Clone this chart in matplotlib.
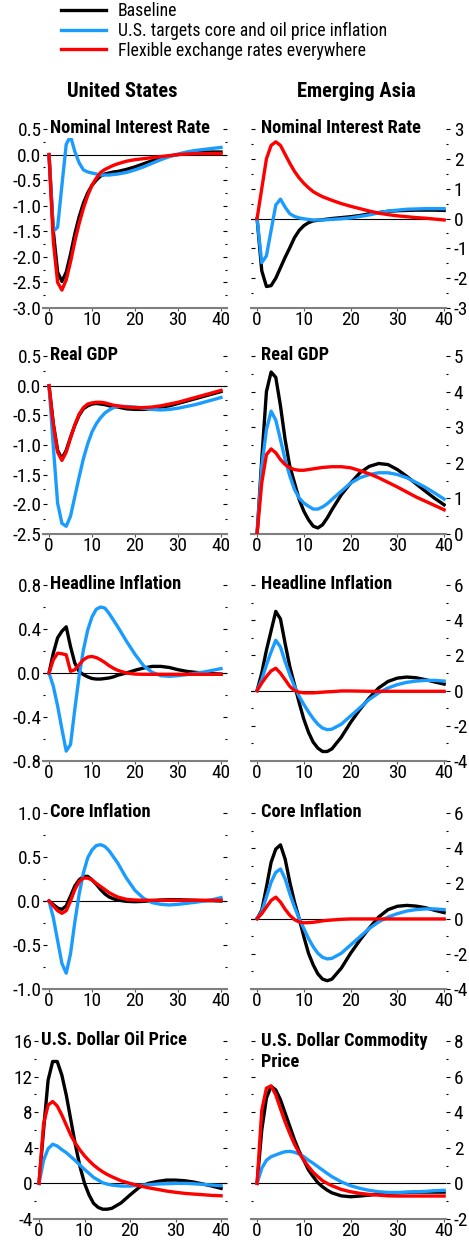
import numpy as np
import matplotlib
matplotlib.use("Agg")
import matplotlib.pyplot as plt
from matplotlib import font_manager as fm
from matplotlib.font_manager import FontProperties
from matplotlib.textpath import TextPath
from matplotlib.ticker import MultipleLocator, FormatStrFormatter

# pick a narrow sans family that has regular + bold
weights = {}
for f in fm.fontManager.ttflist:
    w = f.weight if isinstance(f.weight, int) else fm.weight_dict.get(f.weight, 400)
    weights.setdefault(f.name, set()).add(w)
narrow = 'DejaVu Sans'
for cand in ['Liberation Sans Narrow', 'Arial Narrow', 'Roboto Condensed', 'Archivo Narrow',
             'PT Sans Narrow', 'IBM Plex Sans Condensed', 'Fira Sans Condensed',
             'Encode Sans Condensed', 'Open Sans Condensed']:
    ws = weights.get(cand, set())
    if 400 in ws and any(w >= 700 for w in ws):
        narrow = cand
        break
plt.rcParams['font.family'] = [narrow, 'DejaVu Sans']
plt.rcParams['axes.unicode_minus'] = False


def fit_size(s, target_w, target_h, weight='normal'):
    # font size (pt) that best matches a width and cap height given in pixels
    prop = FontProperties(family=narrow, weight=weight)
    wid = TextPath((0, 0), s, size=10, prop=prop).get_extents().width * 100 / 72
    cap = TextPath((0, 0), 'H', size=10, prop=prop).get_extents().height * 100 / 72
    return ((10 * target_w / wid) * (10 * target_h / cap)) ** 0.5


# quarters
quarters = [0, 1, 2, 3, 4, 5, 6, 7, 8, 9, 10, 11, 12, 13, 14, 15, 16,
            18, 20, 22, 24, 26, 28, 30, 32, 34, 36, 38, 40]

series_labels = ["Baseline",
                 "U.S. targets core and oil price inflation",
                 "Flexible exchange rates everywhere"]
column_titles = ["United States", "Emerging Asia"]

# United States - Nominal Interest Rate
us_rate_base = [0, -1.5, -2.3, -2.48, -2.3, -1.95, -1.55, -1.22, -0.95, -0.75, -0.6, -0.5, -0.42, -0.38, -0.36, -0.34, -0.33,
                -0.29, -0.24, -0.18, -0.12, -0.07, -0.03, 0.0, 0.02, 0.04, 0.05, 0.05, 0.05]
us_rate_target = [0, -1.5, -1.42, -0.6, 0.2, 0.36, 0.06, -0.16, -0.3, -0.34, -0.36, -0.38, -0.4, -0.4, -0.4, -0.39, -0.38,
                  -0.35, -0.3, -0.24, -0.17, -0.1, -0.04, 0.01, 0.05, 0.08, 0.1, 0.12, 0.14]
us_rate_flex = [0, -1.7, -2.5, -2.65, -2.45, -2.1, -1.7, -1.35, -1.05, -0.8, -0.6, -0.46, -0.35, -0.29, -0.25, -0.21, -0.18,
                -0.13, -0.1, -0.08, -0.06, -0.04, -0.02, 0.0, 0.01, 0.02, 0.02, 0.02, 0.02]

# Emerging Asia - Nominal Interest Rate
ea_rate_base = [0, -1.75, -2.28, -2.25, -2.0, -1.65, -1.3, -0.98, -0.64, -0.4, -0.24, -0.14, -0.08, -0.06, -0.04, -0.02, 0.0,
                0.03, 0.06, 0.1, 0.16, 0.2, 0.24, 0.26, 0.27, 0.28, 0.28, 0.28, 0.27]
ea_rate_target = [0, -1.48, -1.25, -0.4, 0.45, 0.65, 0.38, 0.16, 0.07, 0.02, -0.01, -0.03, -0.05, -0.05, -0.05, -0.04, -0.03,
                  -0.01, 0.02, 0.07, 0.12, 0.19, 0.25, 0.28, 0.31, 0.32, 0.33, 0.33, 0.33]
ea_rate_flex = [0, 1.0, 2.0, 2.45, 2.57, 2.45, 2.15, 1.85, 1.58, 1.36, 1.18, 1.03, 0.9, 0.81, 0.73, 0.67, 0.61,
                0.5, 0.41, 0.33, 0.25, 0.18, 0.13, 0.09, 0.06, 0.03, 0.01, -0.02, -0.05]

# United States - Real GDP
us_gdp_base = [0, -0.64, -1.09, -1.23, -1.09, -0.87, -0.67, -0.5, -0.39, -0.34, -0.31, -0.3, -0.31, -0.32, -0.34, -0.35, -0.36,
               -0.39, -0.4, -0.4, -0.39, -0.36, -0.34, -0.3, -0.26, -0.22, -0.18, -0.14, -0.1]
us_gdp_target = [0, -1.03, -1.98, -2.32, -2.37, -2.2, -1.87, -1.54, -1.23, -0.98, -0.78, -0.64, -0.54, -0.46, -0.41, -0.37, -0.35,
                 -0.35, -0.36, -0.38, -0.4, -0.41, -0.4, -0.38, -0.35, -0.32, -0.28, -0.24, -0.2]
us_gdp_flex = [0, -0.66, -1.12, -1.26, -1.12, -0.88, -0.66, -0.48, -0.37, -0.31, -0.29, -0.28, -0.28, -0.29, -0.31, -0.33, -0.34,
               -0.36, -0.37, -0.37, -0.36, -0.34, -0.31, -0.28, -0.24, -0.2, -0.16, -0.12, -0.08]

# Emerging Asia - Real GDP
ea_gdp_base = [0, 2.1, 4.0, 4.55, 4.4, 3.6, 2.65, 1.9, 1.44, 0.97, 0.64, 0.4, 0.22, 0.17, 0.26, 0.45, 0.68,
               1.1, 1.43, 1.72, 1.9, 1.98, 1.95, 1.81, 1.62, 1.41, 1.2, 1.0, 0.82]
ea_gdp_target = [0, 1.9, 2.93, 3.45, 3.2, 2.65, 2.09, 1.63, 1.25, 1.01, 0.87, 0.78, 0.7, 0.7, 0.76, 0.85, 0.97,
                 1.2, 1.43, 1.58, 1.67, 1.72, 1.72, 1.67, 1.58, 1.45, 1.31, 1.15, 0.98]
ea_gdp_flex = [0, 1.44, 2.23, 2.39, 2.28, 2.09, 1.95, 1.86, 1.81, 1.79, 1.79, 1.81, 1.83, 1.85, 1.87, 1.88, 1.89,
               1.89, 1.86, 1.78, 1.69, 1.58, 1.45, 1.32, 1.18, 1.04, 0.92, 0.8, 0.68]

# United States - Headline Inflation
us_head_base = [0, 0.18, 0.32, 0.38, 0.42, 0.24, 0.09, 0.015, -0.015, -0.035, -0.05, -0.055, -0.055, -0.05, -0.045, -0.035, -0.02,
                0.0, 0.025, 0.045, 0.06, 0.06, 0.05, 0.03, 0.015, 0.006, 0.0, -0.006, -0.01]
us_head_target = [0, -0.12, -0.3, -0.51, -0.71, -0.65, -0.33, -0.03, 0.21, 0.39, 0.51, 0.58, 0.6, 0.59, 0.54, 0.48, 0.42,
                  0.29, 0.17, 0.066, 0.006, -0.024, -0.03, -0.024, -0.015, -0.003, 0.009, 0.024, 0.04]
us_head_flex = [0, 0.12, 0.18, 0.175, 0.165, 0.015, 0.03, 0.075, 0.12, 0.145, 0.15, 0.14, 0.12, 0.095, 0.066, 0.043, 0.024,
                0.0, -0.01, -0.012, -0.012, -0.012, -0.012, -0.012, -0.012, -0.012, -0.012, -0.012, -0.012]

# Emerging Asia - Headline Inflation
ea_head_base = [0, 1.0, 2.3, 3.4, 4.5, 4.07, 2.67, 1.36, 0.34, -0.69, -1.63, -2.37, -2.93, -3.27, -3.46, -3.46, -3.31,
                -2.65, -1.81, -1.07, -0.41, 0.15, 0.52, 0.71, 0.77, 0.73, 0.62, 0.49, 0.37]
ea_head_target = [0, 0.62, 1.46, 2.2, 2.86, 2.48, 1.64, 0.9, 0.24, -0.32, -0.79, -1.21, -1.59, -1.91, -2.13, -2.22, -2.19,
                  -1.91, -1.44, -0.97, -0.5, -0.13, 0.15, 0.34, 0.47, 0.54, 0.58, 0.58, 0.54]
ea_head_flex = [0, 0.43, 0.8, 1.12, 1.27, 0.99, 0.62, 0.24, 0.0, -0.09, -0.13, -0.13, -0.13, -0.11, -0.09, -0.07, -0.06,
                -0.02, -0.02, -0.03, -0.04, -0.04, -0.04, -0.04, -0.04, -0.04, -0.04, -0.04, -0.04]

# United States - Core Inflation
us_core_base = [0, -0.04, -0.08, -0.095, -0.056, 0.056, 0.17, 0.24, 0.28, 0.28, 0.24, 0.19, 0.13, 0.08, 0.045, 0.025, 0.011,
                -0.004, -0.008, -0.004, 0.004, 0.011, 0.015, 0.015, 0.011, 0.008, 0.004, 0.004, 0.0]
us_core_target = [0, -0.19, -0.45, -0.71, -0.82, -0.6, -0.24, 0.075, 0.32, 0.49, 0.58, 0.63, 0.64, 0.62, 0.57, 0.5, 0.43,
                  0.26, 0.12, 0.03, -0.019, -0.038, -0.045, -0.038, -0.026, -0.015, 0.0, 0.015, 0.038]
us_core_flex = [0, -0.056, -0.11, -0.14, -0.11, 0.0, 0.13, 0.22, 0.26, 0.26, 0.24, 0.2, 0.165, 0.13, 0.094, 0.068, 0.045,
                0.019, 0.011, 0.008, 0.008, 0.008, 0.008, 0.008, 0.008, 0.008, 0.008, 0.008, 0.008]

# Emerging Asia - Core Inflation
ea_core_base = [0, 0.47, 1.79, 3.2, 3.95, 4.19, 3.38, 2.07, 0.94, 0.0, -1.03, -1.97, -2.63, -3.14, -3.44, -3.53, -3.44,
                -2.82, -1.97, -1.22, -0.53, 0.09, 0.51, 0.7, 0.75, 0.71, 0.62, 0.47, 0.34]
ea_core_target = [0, 0.38, 1.22, 2.07, 2.63, 2.82, 2.26, 1.41, 0.66, 0.0, -0.56, -1.13, -1.6, -1.97, -2.2, -2.29, -2.26,
                  -1.97, -1.5, -1.03, -0.56, -0.19, 0.09, 0.28, 0.43, 0.51, 0.55, 0.55, 0.51]
ea_core_flex = [0, 0.28, 0.66, 1.03, 1.22, 0.94, 0.53, 0.19, -0.06, -0.19, -0.24, -0.23, -0.21, -0.17, -0.13, -0.1, -0.08,
                -0.04, -0.02, -0.02, -0.02, -0.02, -0.02, -0.02, -0.02, -0.02, -0.02, -0.02, -0.02]

# United States - U.S. Dollar Oil Price
us_oil_base = [0, 6.0, 11.6, 13.7, 13.7, 12.2, 9.9, 7.1, 4.3, 1.9, 0.0, -1.3, -2.25, -2.7, -2.9, -2.9, -2.8,
               -2.2, -1.3, -0.45, 0.0, 0.22, 0.37, 0.37, 0.3, 0.15, -0.07, -0.3, -0.56]
us_oil_target = [0, 2.6, 3.9, 4.4, 4.2, 3.8, 3.45, 3.0, 2.55, 2.06, 1.57, 1.12, 0.67, 0.37, 0.07, -0.08, -0.19,
                 -0.3, -0.3, -0.22, -0.15, -0.07, -0.04, 0.0, 0.0, -0.04, -0.11, -0.19, -0.26]
us_oil_flex = [0, 6.7, 8.8, 9.2, 8.7, 7.7, 6.55, 5.4, 4.5, 3.75, 3.1, 2.55, 2.06, 1.65, 1.3, 1.0, 0.75,
               0.3, 0.0, -0.26, -0.49, -0.67, -0.86, -1.0, -1.12, -1.2, -1.27, -1.35, -1.39]

# Emerging Asia - U.S. Dollar Commodity Price
ea_comm_base = [0, 3.0, 4.8, 5.45, 5.25, 4.7, 3.95, 3.2, 2.45, 1.8, 1.3, 0.75, 0.38, 0.04, -0.19, -0.38, -0.53,
                -0.7, -0.75, -0.71, -0.66, -0.6, -0.56, -0.53, -0.51, -0.49, -0.49, -0.49, -0.49]
ea_comm_target = [0, 0.85, 1.3, 1.5, 1.6, 1.7, 1.78, 1.8, 1.75, 1.65, 1.5, 1.3, 1.13, 0.94, 0.75, 0.56, 0.38,
                  0.09, -0.13, -0.28, -0.39, -0.47, -0.51, -0.51, -0.49, -0.47, -0.45, -0.41, -0.39]
ea_comm_flex = [0, 4.1, 5.35, 5.48, 4.97, 4.2, 3.45, 2.8, 2.2, 1.72, 1.3, 0.94, 0.62, 0.38, 0.15, 0.0, -0.13,
                -0.34, -0.47, -0.56, -0.62, -0.66, -0.7, -0.71, -0.71, -0.71, -0.71, -0.71, -0.71]

panel_titles = ["Nominal Interest Rate", "Nominal Interest Rate",
                "Real GDP", "Real GDP",
                "Headline Inflation", "Headline Inflation",
                "Core Inflation", "Core Inflation",
                "U.S. Dollar Oil Price", "U.S. Dollar Commodity\nPrice"]
panel_data = [(us_rate_base, us_rate_target, us_rate_flex), (ea_rate_base, ea_rate_target, ea_rate_flex),
              (us_gdp_base, us_gdp_target, us_gdp_flex), (ea_gdp_base, ea_gdp_target, ea_gdp_flex),
              (us_head_base, us_head_target, us_head_flex), (ea_head_base, ea_head_target, ea_head_flex),
              (us_core_base, us_core_target, us_core_flex), (ea_core_base, ea_core_target, ea_core_flex),
              (us_oil_base, us_oil_target, us_oil_flex), (ea_comm_base, ea_comm_target, ea_comm_flex)]
# (ymin, ymax, major step, minor step, label format)
panel_scales = [(-3.0, 0.5, 0.5, 0.25, '%.1f'), (-3, 3, 1, 0.5, '%d'),
                (-2.5, 0.5, 0.5, 0.25, '%.1f'), (0, 5, 1, 0.5, '%d'),
                (-0.8, 0.8, 0.4, 0.2, '%.1f'), (-4, 6, 2, 1, '%d'),
                (-1.0, 1.0, 0.5, 0.25, '%.1f'), (-4, 6, 2, 1, '%d'),
                (-4, 16, 4, 2, '%d'), (-2, 8, 2, 1, '%d')]

colors = ['#000000', '#1a9cff', '#ff0000']
draw_order = [0, 2, 1]

# font sizes matched to the reference's text widths / heights (pixels)
legend_size = fit_size(series_labels[1], 282, 12)
header_size = fit_size(column_titles[0], 113, 14, 'bold')
title_size = fit_size(panel_titles[0], 163, 12.7, 'bold')
label_size = fit_size('-3.0', 32, 11.7)

W, H = 469, 1241
fig = plt.figure(figsize=(W / 100, H / 100), dpi=100)

row_px = [(129, 308), (356, 534), (585, 761), (813, 989), (1041, 1219)]

for i in range(10):
    row, col = divmod(i, 2)
    top, bot = row_px[row]
    if col == 0:
        x0, x1 = (34, 227) if row == 4 else (43, 227)
        xlim = (-1.1, 41.3) if row == 4 else (-1.4, 41.4)
    else:
        x0, x1 = 251, 446
        xlim = (-1.3, 40.4)
    ax = fig.add_axes([x0 / W, 1 - bot / H, (x1 - x0) / W, (bot - top) / H])
    ymin, ymax, major, minor, fmt = panel_scales[i]
    for k in draw_order:
        ax.plot(quarters, panel_data[i][k], color=colors[k], lw=2.4,
                solid_joinstyle='round', zorder=3 + k)
    ax.axhline(0, color='black', lw=0.8, zorder=2)
    ax.set_xlim(*xlim)
    ax.set_ylim(ymin, ymax)
    ax.set_xticks([0, 10, 20, 30, 40])
    ax.yaxis.set_major_locator(MultipleLocator(major))
    ax.yaxis.set_minor_locator(MultipleLocator(minor))
    ax.yaxis.set_major_formatter(FormatStrFormatter(fmt))
    for s in ['top', 'left', 'right']:
        ax.spines[s].set_visible(False)
    ax.spines['bottom'].set_color('#7f7f7f')
    ax.spines['bottom'].set_linewidth(1.5)
    ax.tick_params(axis='x', direction='out', length=2.5, width=0.8, color='#555555',
                   labelsize=label_size, pad=0)
    if col == 0:
        ax.tick_params(axis='y', which='both', direction='in', left=True, right=True,
                       labelleft=True, labelright=False, labelsize=label_size, pad=1)
    else:
        ax.tick_params(axis='y', which='both', direction='out', left=False, right=True,
                       labelleft=False, labelright=True, labelsize=label_size, pad=2.5)
        # inward ticks on the left edge, no labels
        sec = ax.secondary_yaxis('left')
        sec.yaxis.set_major_locator(MultipleLocator(major))
        sec.yaxis.set_minor_locator(MultipleLocator(minor))
        sec.spines['left'].set_visible(False)
        sec.tick_params(which='both', direction='in', labelleft=False)
        sec.tick_params(which='major', length=3, width=0.8)
        sec.tick_params(which='minor', length=1.5, width=0.8)
    ax.tick_params(axis='y', which='major', length=3, width=0.8)
    ax.tick_params(axis='y', which='minor', length=1.5, width=0.8)
    ax.patch.set_alpha(0)
    off = 5 if col == 0 else 7
    nlines = panel_titles[i].count('\n')
    dy = -3 - nlines * 1.2 * title_size
    ax.annotate(panel_titles[i], xy=(0, 1), xycoords='axes fraction',
                xytext=(off, dy), textcoords='offset points', ha='left', va='baseline',
                fontsize=title_size, fontweight='bold', zorder=10,
                bbox=dict(facecolor='white', edgecolor='none', pad=0.5))

# column headers
fig.text(122 / W, 1 - 97 / H, column_titles[0], ha='center', va='baseline',
         fontsize=header_size, fontweight='bold')
fig.text(356 / W, 1 - 97 / H, column_titles[1], ha='center', va='baseline',
         fontsize=header_size, fontweight='bold')

handles = [plt.Line2D([], [], color=c, lw=2.4) for c in colors]
fig.legend(handles, series_labels, loc='upper left', bbox_to_anchor=(61 / W, 1 - 2 / H),
           frameon=False, fontsize=legend_size, handlelength=2.5, handletextpad=0.7,
           labelspacing=0.1, borderpad=0, borderaxespad=0)

fig.savefig('out.png', dpi=100)
